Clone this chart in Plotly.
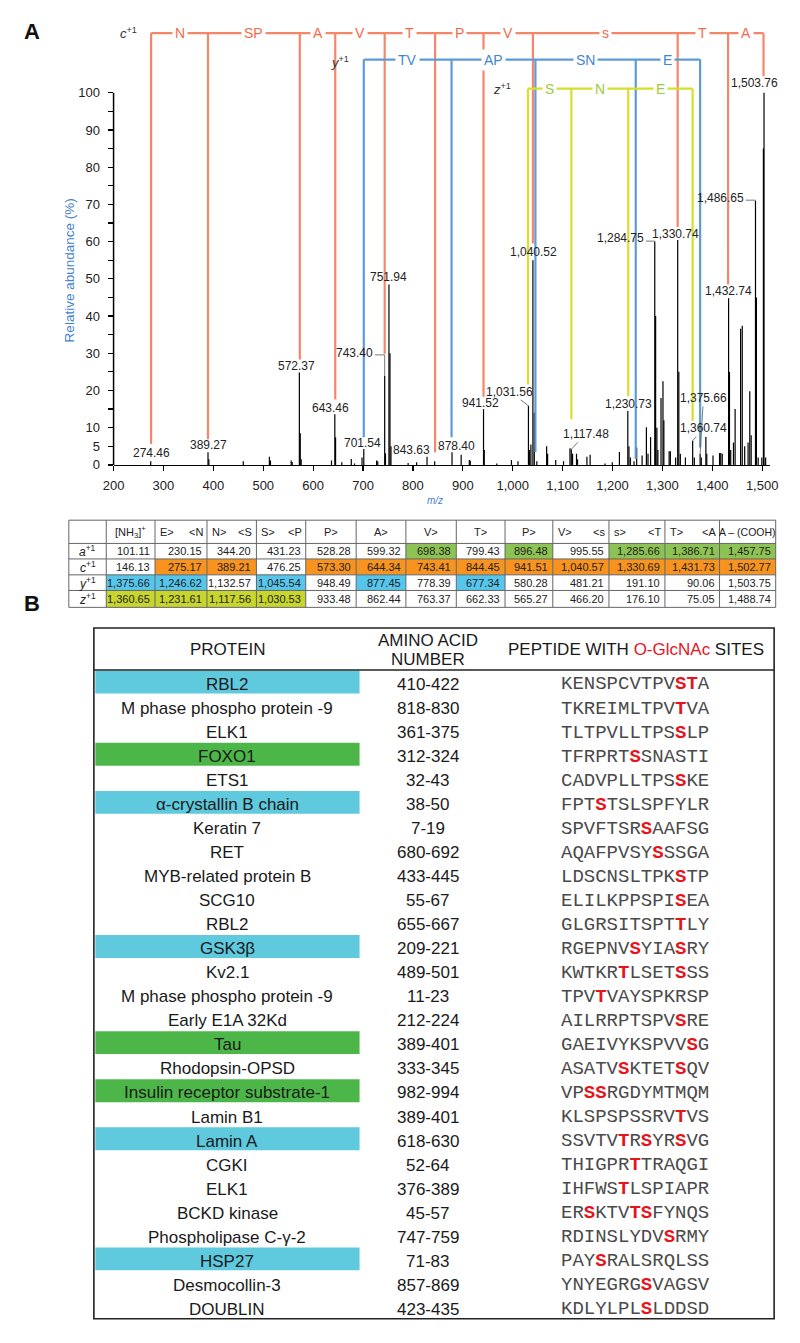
import plotly.graph_objects as go

W, H = 800, 1343
SANS = "Liberation Sans, Arial, Helvetica, sans-serif"
MONO = "Liberation Mono, Courier New, monospace"

# ---------------- data: spectrum ----------------
peak_mz = [274.46, 389.27, 391.0, 460.0, 512.3, 514.5, 556.0, 558.0, 572.37, 574.2, 576.0,
           636.8, 643.46, 645.0, 657.5, 676.5, 683.0, 698.0, 701.54, 727.3, 729.5, 743.40,
           745.0, 751.94, 754.0, 756.0, 790.4, 807.4, 828.3, 843.63, 878.40, 896.7, 913.0,
           915.0, 941.52, 943.0, 968.2, 997.5, 1010.6, 1031.56, 1034.0, 1036.5, 1040.52,
           1043.3, 1048.4, 1068.0, 1070.0, 1086.2, 1101.9, 1114.8, 1117.48, 1120.0, 1127.9,
           1130.0, 1148.8, 1155.2, 1185.2, 1199.6, 1213.9, 1230.73, 1233.0, 1236.0, 1243.2,
           1248.5, 1259.4, 1268.0, 1271.2, 1276.4, 1284.75, 1286.5, 1289.0, 1291.0, 1297.3,
           1301.2, 1303.0, 1313.6, 1316.0, 1326.6, 1330.74, 1333.0, 1336.0, 1346.2, 1360.74,
           1364.0, 1375.66, 1378.0, 1387.2, 1389.0, 1401.5, 1414.6, 1417.0, 1420.0, 1432.74,
           1434.5, 1437.0, 1442.5, 1445.8, 1456.8, 1460.1, 1465.0, 1471.8, 1475.2, 1478.0,
           1486.65, 1488.5, 1492.0, 1499.3, 1502.5, 1503.76, 1507.0]
peak_int = [1.0, 3.4, 1.5, 1.0, 2.2, 1.2, 1.2, 0.8, 24.8, 8.5, 1.5,
            1.2, 13.6, 7.4, 0.7, 1.6, 0.4, 2.0, 4.3, 1.2, 1.0, 23.9,
            3.1, 48.5, 30.0, 5.0, 0.5, 0.7, 2.2, 1.0, 3.4, 2.7, 1.3,
            1.1, 15.0, 4.0, 0.4, 1.3, 1.0, 15.9, 4.0, 5.5, 55.0,
            14.0, 1.0, 5.0, 3.0, 1.3, 1.0, 4.5, 4.2, 3.0, 3.0,
            1.5, 2.2, 2.7, 0.4, 0.7, 3.5, 14.5, 5.0, 2.0, 1.0,
            4.7, 2.5, 10.1, 3.0, 7.5, 60.0, 40.0, 10.0, 4.0, 18.0,
            22.5, 12.0, 3.7, 3.7, 2.0, 60.4, 25.0, 3.0, 2.0, 6.5,
            2.0, 3.0, 2.0, 7.5, 3.0, 2.5, 3.2, 3.2, 3.0, 44.8,
            25.0, 4.0, 6.0, 15.0, 36.6, 37.4, 5.0, 6.0, 19.8, 8.0,
            71.0, 45.0, 2.0, 2.0, 85.0, 100.0, 2.0]
labeled_mz = [274.46, 389.27, 572.37, 643.46, 701.54, 743.40, 751.94, 843.63, 878.40, 941.52,
              1031.56, 1040.52, 1117.48, 1230.73, 1284.75, 1330.74, 1360.74, 1375.66, 1432.74,
              1486.65, 1503.76]

# fragment ladders drawn on the spectrum
c_ladder_labels = ["N", "SP", "A", "V", "T", "P", "V", "s", "T", "A"]
y_ladder_mz = [701.54, 877.45, 1045.54, 1246.62, 1375.66]
y_ladder_labels = ["TV", "AP", "SN", "E"]
z_ladder_labels = ["S", "N", "E"]

# ---------------- data: fragment table ----------------
table_cols = ["[NH<sub>3</sub>]<sup>+</sup>", ("E&gt;", "&lt;N"), ("N&gt;", "&lt;S"), ("S&gt;", "&lt;P"),
              "P&gt;", "A&gt;", "V&gt;", "T&gt;", "P&gt;", ("V&gt;", "&lt;s"), ("s&gt;", "&lt;T"),
              ("T&gt;", "&lt;A"), "A – (COOH)"]
row_names = ["a", "c", "y", "z"]
a_ions = [101.11, 230.15, 344.20, 431.23, 528.28, 599.32, 698.38, 799.43, 896.48, 995.55, 1285.66, 1386.71, 1457.75]
c_ions = [146.13, 275.17, 389.21, 476.25, 573.30, 644.34, 743.41, 844.45, 941.51, 1040.57, 1330.69, 1431.73, 1502.77]
y_ions = [1375.66, 1246.62, 1132.57, 1045.54, 948.49, 877.45, 778.39, 677.34, 580.28, 481.21, 191.10, 90.06, 1503.75]
z_ions = [1360.65, 1231.61, 1117.56, 1030.53, 933.48, 862.44, 763.37, 662.33, 565.27, 466.20, 176.10, 75.05, 1488.74]
a_hl = [6, 8, 10, 11, 12]
c_hl = [1, 2, 4, 5, 6, 7, 8, 9, 10, 11, 12]
y_hl = [0, 1, 3, 5, 7]
z_hl = [0, 1, 2, 3]

# ---------------- data: O-GlcNAc table (lowercase = modified site) ----------------
proteins = ["RBL2", "M phase phospho protein -9", "ELK1", "FOXO1", "ETS1", "α-crystallin B chain",
            "Keratin 7", "RET", "MYB-related protein B", "SCG10", "RBL2", "GSK3β", "Kv2.1",
            "M phase phospho protein -9", "Early E1A 32Kd", "Tau", "Rhodopsin-OPSD",
            "Insulin receptor substrate-1", "Lamin B1", "Lamin A", "CGKI", "ELK1", "BCKD kinase",
            "Phospholipase C-γ-2", "HSP27", "Desmocollin-3", "DOUBLIN"]
aa_ranges = ["410-422", "818-830", "361-375", "312-324", "32-43", "38-50", "7-19", "680-692",
             "433-445", "55-67", "655-667", "209-221", "489-501", "11-23", "212-224", "389-401",
             "333-345", "982-994", "389-401", "618-630", "52-64", "376-389", "45-57", "747-759",
             "71-83", "857-869", "423-435"]
peptides = ["KENSPCVTPVstA", "TKREIMLTPVtVA", "TLTPVLLTPSsLP", "TFRPRTsSNASTI", "CADVPLLTPSsKE",
            "FPTsTSLSPFYLR", "SPVFTSRsAAFSG", "AQAFPVSYsSSGA", "LDSCNSLTPKsTP", "ELILKPPSPIsEA",
            "GLGRSITSPTtLY", "RGEPNVsYIAsRY", "KWTKRtLSETsSS", "TPVtVAYSPKRSP", "AILRRPTSPVsRE",
            "GAEIVYKSPVVsG", "ASATVsKTETsQV", "VPssRGDYMTMQM", "KLSPSPSSRVtVS", "SSVTVtRsYRsVG",
            "THIGPRtTRAQGI", "IHFWStLSPIAPR", "ERsKTVtsFYNQS", "RDINSLYDVsRMY", "PAYsRALSRQLSS",
            "YNYEGRGsVAGSV", "KDLYLPLsLDDSD"]
band = ["c", "", "", "g", "", "c", "", "", "", "", "", "c", "", "", "", "g", "", "g", "", "c",
        "", "", "", "", "c", "", ""]

# ---------------- layout constants ----------------
X0_PX, X_PER = 105.2, 0.5117   # px of m/z 200 ; px per m/z unit
Y0_PX, Y_PER = 467.7, 3.744    # px of 0 % ; px per % unit
XR = [200, 1515]
YR = [0, 120]
xdom = [X0_PX / W, (X0_PX + (XR[1] - XR[0]) * X_PER) / W]
ydom = [1 - Y0_PX / H, 1 - (Y0_PX - YR[1] * Y_PER) / H]

RED_L, RED_T = "#f5866a", "#f26a4c"
BLU_L, BLU_T = "#5d9bd8", "#3f86d1"
GRN_L, GRN_T = "#d6df2c", "#9ccb3e"

C_LEVEL, Y_LEVEL, Z_LEVEL = 116.0, 108.9, 101.1
c_line_end = [5.6, 6.9, 28.3, 17.6, 29.9, 3.4, 18.3, 59.5, 63.9, 48.5, 104.4]
y_line_end = [7.4, 7.4, 3.4, 1.6, 4.7]
z_line_end = [21.6, 12.3, 18.5, 11.9]

label_layout = {
    274.46: ("plain", 0.7, -8.3), 389.27: ("plain", 0, -7.3), 572.37: ("plain", -2.4, -6.5),
    643.46: ("plain", -4.7, -6.8), 701.54: ("plain", -0.8, -5.5),
    743.40: ("elbow", -29.7, -22.5, -10, -21.2), 751.94: ("plain", -0.6, -7.5),
    843.63: ("plain", -22.8, -10.7), 878.40: ("plain", 4.4, -6.7), 941.52: ("plain", -3.5, -6.0),
    1031.56: ("arrow", -19, -14.2), 1040.52: ("plain", 0.7, -7.8), 1117.48: ("arrow", 14.3, -15.3),
    1230.73: ("plain", 0.8, -7.4), 1284.75: ("elbow", -34.5, -3.8, -9, -0.5),
    1330.74: ("plain", -2.1, -6.6), 1360.74: ("arrow", 10.9, -12.7), 1375.66: ("arrow", 3.3, -55.8),
    1432.74: ("plain", -0.4, -6.7), 1486.65: ("elbow", -34.9, -2.6, -10, -0.5),
    1503.76: ("plain", -9.2, -9.3),
}


def PX(x):
    return x / W


def PY(y):
    return 1 - y / H


def ann(x, y, text, size=12, color="#222", xanchor="center", yanchor="middle", family=SANS, **kw):
    return dict(x=PX(x), y=PY(y), xref="paper", yref="paper", text=text, showarrow=False,
                font=dict(size=size, color=color, family=family), xanchor=xanchor,
                yanchor=yanchor, **kw)


def prect(x0, y0, x1, y1, fill=None, line_color=None, lw=1):
    d = dict(type="rect", xref="paper", yref="paper", x0=PX(x0), x1=PX(x1), y0=PY(y0), y1=PY(y1),
             layer="below")
    d["fillcolor"] = fill if fill else "rgba(0,0,0,0)"
    d["line"] = dict(color=line_color, width=lw) if line_color else dict(width=0)
    return d


def pline(x0, y0, x1, y1, color="#555", lw=1):
    return dict(type="line", xref="paper", yref="paper", x0=PX(x0), x1=PX(x1), y0=PY(y0), y1=PY(y1),
                line=dict(color=color, width=lw))


fig = go.Figure()
shapes, annots = [], []

# ---------------- spectrum sticks ----------------
xs, ys = [], []
for m, i in zip(peak_mz, peak_int):
    xs += [m, m, None]
    ys += [0, i, None]
fig.add_trace(go.Scatter(x=xs, y=ys, mode="lines", line=dict(color="black", width=1.2),
                         hoverinfo="skip", showlegend=False))

# ---------------- ladders ----------------
def ladder(ions, ends, level, lcol, tcol, labels):
    shapes.append(dict(type="line", xref="x", yref="y", x0=ions[0], x1=ions[-1], y0=level, y1=level,
                       line=dict(color=lcol, width=2.2)))
    for m, e in zip(ions, ends):
        shapes.append(dict(type="line", xref="x", yref="y", x0=m, x1=m, y0=level, y1=e,
                           line=dict(color=lcol, width=2.2)))
    for k, lab in enumerate(labels):
        annots.append(dict(x=(ions[k] + ions[k + 1]) / 2, y=level, xref="x", yref="y", text=lab,
                           showarrow=False, bgcolor="white", borderpad=2,
                           font=dict(size=14, color=tcol, family=SANS)))


c_ladder = [c_ions[i] for i in c_hl]
z_ladder = sorted(z_ions[i] for i in z_hl)
ladder(c_ladder, c_line_end, C_LEVEL, RED_L, RED_T, c_ladder_labels)
ladder(y_ladder_mz, y_line_end, Y_LEVEL, BLU_L, BLU_T, y_ladder_labels)
ladder(z_ladder, z_line_end, Z_LEVEL, GRN_L, GRN_T, z_ladder_labels)

annots.append(ann(120, 33.5, "<i>c</i><sup>+1</sup>", size=13, color="#333"))
annots.append(ann(337, 62, "<i>y</i><sup>+1</sup>", size=13, color="#333"))
annots.append(ann(504, 90, "<i>z</i><sup>+1</sup>", size=13, color="#333"))

# ---------------- peak labels ----------------
inten = dict(zip(peak_mz, peak_int))
for m in labeled_mz:
    I = inten[m]
    spec = label_layout[m]
    kind, dx, dy = spec[0], spec[1], spec[2]
    txt = f"{m:,.2f}"
    if kind == "arrow":
        annots.append(dict(x=m, y=I, xref="x", yref="y", text=txt, showarrow=True, ax=dx, ay=dy,
                           arrowhead=0, arrowwidth=0.8, arrowcolor="#555", standoff=0,
                           font=dict(size=12, color="#222", family=SANS)))
    else:
        annots.append(dict(x=m, y=I, xref="x", yref="y", text=txt, showarrow=False,
                           xshift=dx, yshift=-dy, xanchor="center", yanchor="middle",
                           font=dict(size=12, color="#222", family=SANS)))
        if kind == "elbow":
            hx, hy = spec[3], spec[4]
            xa = m + hx / X_PER
            yh = I - hy / Y_PER
            shapes.append(dict(type="path", xref="x", yref="y",
                               path=f"M {xa},{yh} L {m},{yh} L {m},{I}",
                               line=dict(color="#555", width=0.8)))

# y axis line (only up to 100 %)
shapes.append(dict(type="line", xref="paper", yref="y", x0=xdom[0], x1=xdom[0], y0=0, y1=100,
                   line=dict(color="black", width=1.5)))

annots.append(ann(60, 272.5, "Relative abundance (%)", size=13.5, color="#3f7fcf", textangle=-90))
annots.append(ann(435, 503, "<i>m/z</i>", size=10, color="#3f7fcf"))
annots.append(ann(22, 32, "<b>A</b>", size=22, color="#111"))
annots.append(ann(22, 607, "<b>B</b>", size=22, color="#111"))

# ---------------- fragment table ----------------
colA = [59.3, 97.7, 147.7, 201, 251.7, 302.3, 354, 405, 456.7, 506.7, 555.7, 613.3, 670.7, 726.7, 784.3]
rowA = [523.3, 546.7, 562.3, 578.3, 594, 611]
row_vals = [a_ions, c_ions, y_ions, z_ions]
row_hls = [a_hl, c_hl, y_hl, z_hl]
row_cols = ["#8dc254", "#f7931e", "#57c6ec", "#c8d52c"]
FS_A = 11
for r, (vals, hl, col) in enumerate(zip(row_vals, row_hls, row_cols)):
    y0, y1 = rowA[r + 1], rowA[r + 2]
    yc = (y0 + y1) / 2
    for j in hl:
        shapes.append(prect(colA[j + 1], y0, colA[j + 2], y1, fill=col))
    for j, v in enumerate(vals):
        annots.append(ann(colA[j + 2] - 3, yc, f"{v:,.2f}", size=FS_A, xanchor="right"))
    annots.append(ann((colA[0] + colA[1]) / 2, yc, f"<i>{row_names[r]}</i><sup>+1</sup>", size=12))
yh = (rowA[0] + rowA[1]) / 2
for j, hdr in enumerate(table_cols):
    xl, xr = colA[j + 1], colA[j + 2]
    if isinstance(hdr, tuple):
        annots.append(ann(xl + 3, yh, hdr[0], size=FS_A, xanchor="left"))
        annots.append(ann(xr - 2, yh, hdr[1], size=FS_A, xanchor="right"))
    else:
        annots.append(ann((xl + xr) / 2, yh, hdr, size=FS_A if j < 12 else 10.5))
for x in colA:
    shapes.append(pline(x, rowA[0], x, rowA[-1], color="#666", lw=1))
for y in rowA:
    shapes.append(pline(colA[0], y, colA[-1], y, color="#666", lw=1))

# ---------------- O-GlcNAc table ----------------
BX0, BX1, BY0, BHDR, BY1 = 85, 782.7, 631.7, 674, 1326.7
pitch = (BY1 - BHDR) / len(proteins)
band_col = {"c": "#5fc9de", "g": "#4cb748"}
FS_B = 17
for i, (p, aa, pep, b) in enumerate(zip(proteins, aa_ranges, peptides, band)):
    ytop = BHDR + i * pitch
    yc = ytop + pitch / 2 + 2.5
    if b:
        shapes.append(prect(86.5, ytop + 0.8, 357.5, ytop + pitch - 0.4, fill=band_col[b]))
    annots.append(ann(222, yc, p, size=FS_B, color="#1a1a1a"))
    annots.append(ann(427.5, yc, aa, size=FS_B, color="#1a1a1a"))
    rich = "".join(f"<span style='color:#e8141c'><b>{ch.upper()}</b></span>" if ch.islower() else ch
                   for ch in pep)
    annots.append(ann(640.5, yc, rich, size=19, color="#4a4a4a", family=MONO))

annots.append(ann(223, 653.5, "PROTEIN", size=FS_B, color="#1a1a1a"))
annots.append(ann(427.5, 644, "AMINO ACID", size=FS_B, color="#1a1a1a"))
annots.append(ann(427.5, 663, "NUMBER", size=FS_B, color="#1a1a1a"))
annots.append(ann(641, 653.5, "PEPTIDE WITH <span style='color:#e8141c'>O-GlcNAc</span> SITES",
                  size=FS_B, color="#1a1a1a"))
shapes.append(prect(BX0, BY0, BX1, BY1, line_color="#222", lw=1.6))
shapes.append(pline(BX0, BHDR, BX1, BHDR, color="#222", lw=1.6))

# ---------------- axes / layout ----------------
xt = list(range(200, 1501, 100))
yt = [0, 5] + list(range(10, 101, 10))
y_minor = list(range(15, 100, 10))
fig.update_layout(
    width=W, height=H, margin=dict(l=0, r=0, t=0, b=0), autosize=False,
    paper_bgcolor="white", plot_bgcolor="white", showlegend=False,
    xaxis=dict(domain=xdom, range=XR, showgrid=False, zeroline=False, showline=True,
               linecolor="black", linewidth=1.5, ticks="outside", ticklen=5, tickwidth=1.2,
               tickcolor="black", tickvals=xt, ticktext=[f"{v:,}" for v in xt],
               tickfont=dict(size=13, color="#222", family=SANS), ticklabelstandoff=3),
    yaxis=dict(domain=ydom, range=YR, showgrid=False, zeroline=False, showline=False,
               ticks="outside", ticklen=5, tickwidth=1.2, tickcolor="black", tickvals=yt,
               ticktext=[str(v) for v in yt],
               minor=dict(tickmode="array", tickvals=y_minor, ticks="outside", ticklen=5,
                          tickwidth=1.2, tickcolor="black"),
               tickfont=dict(size=13, color="#222", family=SANS), ticklabelstandoff=5),
    shapes=shapes, annotations=annots,
)

fig.write_html("out.html", config={"displayModeBar": False, "staticPlot": True},
               post_script="document.body.style.margin='0';document.body.style.overflow='hidden';")
